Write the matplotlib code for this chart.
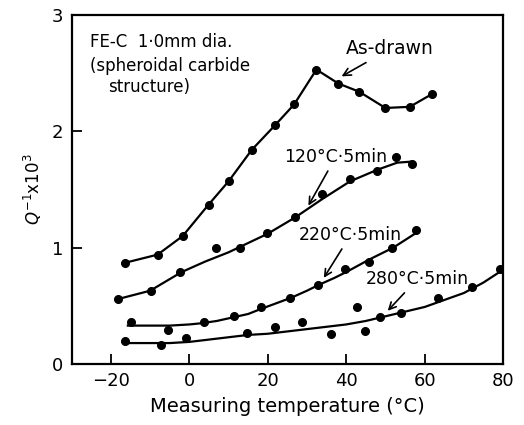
import matplotlib
matplotlib.use("Agg")
import matplotlib.pyplot as plt

# measured points (temperature in C, Q^-1 x 10^3)
asdrawn_t = [-16.4, -8.1, -1.7, 4.9, 10.0, 15.9, 21.8, 26.7, 32.4, 38.0, 43.3, 50.0, 56.2, 61.9]
asdrawn_q = [0.87, 0.94, 1.10, 1.37, 1.57, 1.84, 2.05, 2.23, 2.53, 2.41, 2.34, 2.20, 2.21, 2.32]

t120_t = [-18.1, -9.7, -2.3, 6.8, 12.9, 19.8, 27.0, 33.9, 41.0, 47.9, 52.7, 56.8]
t120_q = [0.56, 0.63, 0.79, 1.00, 1.00, 1.13, 1.26, 1.46, 1.59, 1.66, 1.78, 1.72]

t220_t = [-14.8, -5.5, 3.8, 11.3, 18.2, 25.6, 32.8, 39.7, 45.8, 51.6, 57.8]
t220_q = [0.365, 0.29, 0.36, 0.41, 0.49, 0.57, 0.68, 0.82, 0.88, 1.00, 1.15]

t280_t = [-16.3, -7.2, -0.8, 14.8, 21.8, 28.6, 36.0, 42.8, 44.7, 48.5, 53.9, 63.5, 72.1, 79.3]
t280_q = [0.198, 0.16, 0.22, 0.27, 0.32, 0.36, 0.26, 0.49, 0.28, 0.40, 0.44, 0.57, 0.66, 0.82]

# hand-drawn trend curves
c120_t = [-18, -10, -2, 4, 10, 15, 20, 27, 34, 41, 48, 53, 57]
c120_q = [0.56, 0.63, 0.79, 0.88, 0.96, 1.04, 1.12, 1.26, 1.42, 1.57, 1.67, 1.73, 1.74]
c220_t = [-15.7, -10, -5, 0, 3, 7, 11, 15, 18, 22, 26, 30, 33, 37, 40, 46, 52, 58]
c220_q = [0.33, 0.33, 0.33, 0.34, 0.35, 0.37, 0.40, 0.43, 0.47, 0.52, 0.57, 0.63, 0.68, 0.74, 0.79, 0.90, 1.00, 1.13]
c280_t = [-16.3, -10, -5, 0, 5, 10, 15, 20, 25, 30, 35, 40, 45, 50, 55, 60, 65, 70, 75, 80]
c280_q = [0.18, 0.18, 0.18, 0.19, 0.21, 0.23, 0.25, 0.26, 0.28, 0.30, 0.32, 0.34, 0.37, 0.41, 0.45, 0.49, 0.55, 0.61, 0.70, 0.81]

plt.rcParams['font.family'] = ['DejaVu Sans']

fig = plt.figure(figsize=(5.24, 4.25), dpi=100)
ax = fig.add_axes([0.137, 0.1435, 0.823, 0.8215])

ax.plot(asdrawn_t, asdrawn_q, c="black", lw=1.6, marker="o", ms=5.5)
ax.plot(t120_t, t120_q, "ko", ms=5.5)
ax.plot(c120_t, c120_q, c="black", lw=1.6)
ax.plot(t220_t, t220_q, "ko", ms=5.5)
ax.plot(c220_t, c220_q, c="black", lw=1.6)
ax.plot(t280_t, t280_q, "ko", ms=5.5)
ax.plot(c280_t, c280_q, c="black", lw=1.6)

ax.set_xlim(-30, 80)
ax.set_ylim(0, 3)
ax.set_xticks([-20, 0, 20, 40, 60, 80])
ax.set_yticks([0, 1, 2, 3])
ax.tick_params(direction="in", length=7, width=1.3, labelsize=13, pad=6)
for s in ax.spines.values():
    s.set_linewidth(1.6)

ax.set_xlabel("Measuring temperature (°C)", fontsize=14, labelpad=5)
ax.set_ylabel(r"$Q^{-1}$x$10^3$", fontsize=12, labelpad=6)

ax.text(-25.4, 2.77, "FE-C  1·0mm dia.", fontsize=12, va="center")
ax.text(-25.4, 2.56, "(spheroidal carbide", fontsize=12, va="center")
ax.text(-20.8, 2.38, "structure)", fontsize=12, va="center")

arrow = dict(arrowstyle="->", color="black", lw=1.2)
ax.annotate("As-drawn", xy=(38.2, 2.46), xytext=(40, 2.66), fontsize=13.5,
            arrowprops=arrow)
ax.annotate("120°C·5min", xy=(30.0, 1.34), xytext=(24.2, 1.78), fontsize=12.5,
            va="center", arrowprops=arrow)
ax.annotate("220°C·5min", xy=(33.9, 0.72), xytext=(28, 1.11), fontsize=12.5,
            va="center", arrowprops=arrow)
ax.annotate("280°C·5min", xy=(50.1, 0.44), xytext=(45, 0.73), fontsize=12.5,
            va="center", arrowprops=arrow)

fig.savefig("out.png", dpi=100)
